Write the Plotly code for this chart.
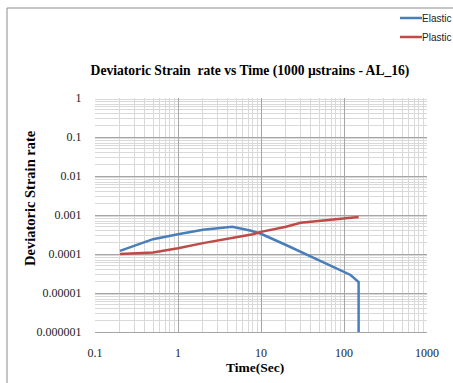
import plotly.graph_objects as go

# Data
elastic_t = [0.2, 0.5, 1, 2, 3, 4.5, 7.4, 10, 20, 50, 100, 120, 150, 150]
elastic_y = [0.00012, 0.00024, 0.00032, 0.00042, 0.00046, 0.0005, 0.0004, 0.00033, 0.00017, 0.00007, 0.000036, 0.000029, 0.000019, 0.0000001]
plastic_t = [0.2, 0.5, 1, 2, 5, 8, 10, 20, 30, 60, 150]
plastic_y = [0.0001, 0.00011, 0.00014, 0.00019, 0.00027, 0.00032, 0.00037, 0.0005, 0.00063, 0.00072, 0.00089]

series_names = ["Elastic", "Plastic"]
series_colors = ["#4a7ebb", "#be4b48"]

x_tickvals = [0.1, 1, 10, 100, 1000]
x_ticktext = ["0.1", "1", "10", "100", "1000"]
y_tickvals = [1, 0.1, 0.01, 0.001, 0.0001, 0.00001, 0.000001]
y_ticktext = ["1", "0.1", "0.01", "0.001", "0.0001", "0.00001", "0.000001"]

W, H = 453, 383
L, R, T, B = 95, 26, 98, 51
pw, ph = W - L - R, H - T - B

def px(x):
    return (x - L) / pw

def py(y):
    return (H - B - y) / ph

fig = go.Figure()
fig.add_trace(go.Scatter(x=elastic_t, y=elastic_y, mode="lines", name=series_names[0],
                         line=dict(color=series_colors[0], width=2.5)))
fig.add_trace(go.Scatter(x=plastic_t, y=plastic_y, mode="lines", name=series_names[1],
                         line=dict(color=series_colors[1], width=2.5)))

serif = "Liberation Serif"
fig.update_layout(
    width=W, height=H,
    margin=dict(l=L, r=R, t=T, b=B),
    paper_bgcolor="white", plot_bgcolor="white",
    title=dict(text="<b>Deviatoric Strain  rate vs Time (1000 µstrains - AL_16)</b>",
               font=dict(family=serif, size=13.6, color="black"),
               x=px(250), xref="paper", xanchor="center",
               y=1 - 70 / H, yref="container", yanchor="middle"),
    showlegend=False,
)

fig.update_xaxes(type="log", range=[-1, 3], tickvals=x_tickvals, ticktext=x_ticktext,
                 showgrid=True, gridcolor="#a6a6a6", gridwidth=1,
                 minor=dict(showgrid=True, gridcolor="#d9d9d9", dtick="D1"),
                 showline=True, linecolor="#a6a6a6", ticks="outside", ticklen=10,
                 tickcolor="rgba(0,0,0,0)", zeroline=False,
                 tickfont=dict(family=serif, size=12, color="#222"))
fig.update_yaxes(type="log", range=[-6, 0], tickvals=y_tickvals, ticktext=y_ticktext,
                 showgrid=True, gridcolor="#a6a6a6", gridwidth=1,
                 minor=dict(showgrid=True, gridcolor="#d9d9d9", dtick="D1"),
                 showline=False, ticks="outside", ticklen=10, tickcolor="rgba(0,0,0,0)",
                 zeroline=False,
                 tickfont=dict(family=serif, size=12, color="#222"))

fig.add_annotation(text="<b>Time(Sec)</b>", x=px(255), y=py(367), xref="paper", yref="paper",
                   showarrow=False, font=dict(family=serif, size=13.5, color="black"),
                   xanchor="center", yanchor="middle")
fig.add_annotation(text="<b>Deviatoric Strain rate</b>", x=px(30), y=py(198), xref="paper", yref="paper",
                   showarrow=False, textangle=-90, font=dict(family=serif, size=14.5, color="black"),
                   xanchor="center", yanchor="middle")

# manual legend
for i, (nm, col) in enumerate(zip(series_names, series_colors)):
    yy = 18 + 19 * i
    fig.add_shape(type="line", xref="paper", yref="paper", x0=px(400), x1=px(422),
                  y0=py(yy), y1=py(yy), line=dict(color=col, width=2.5))
    fig.add_annotation(text=nm, x=px(422), y=py(yy), xref="paper", yref="paper",
                       showarrow=False, xanchor="left", yanchor="middle", xshift=-2,
                       font=dict(family="Liberation Sans", size=10, color="#222"))

# outer chart border (top and left)
fig.add_shape(type="line", xref="paper", yref="paper", x0=px(7), y0=py(8), x1=px(460), y1=py(8),
              line=dict(color="#8c8c8c", width=1))
fig.add_shape(type="line", xref="paper", yref="paper", x0=px(7), y0=py(8), x1=px(7), y1=py(390),
              line=dict(color="#8c8c8c", width=1))

fig.write_html("out.html")
